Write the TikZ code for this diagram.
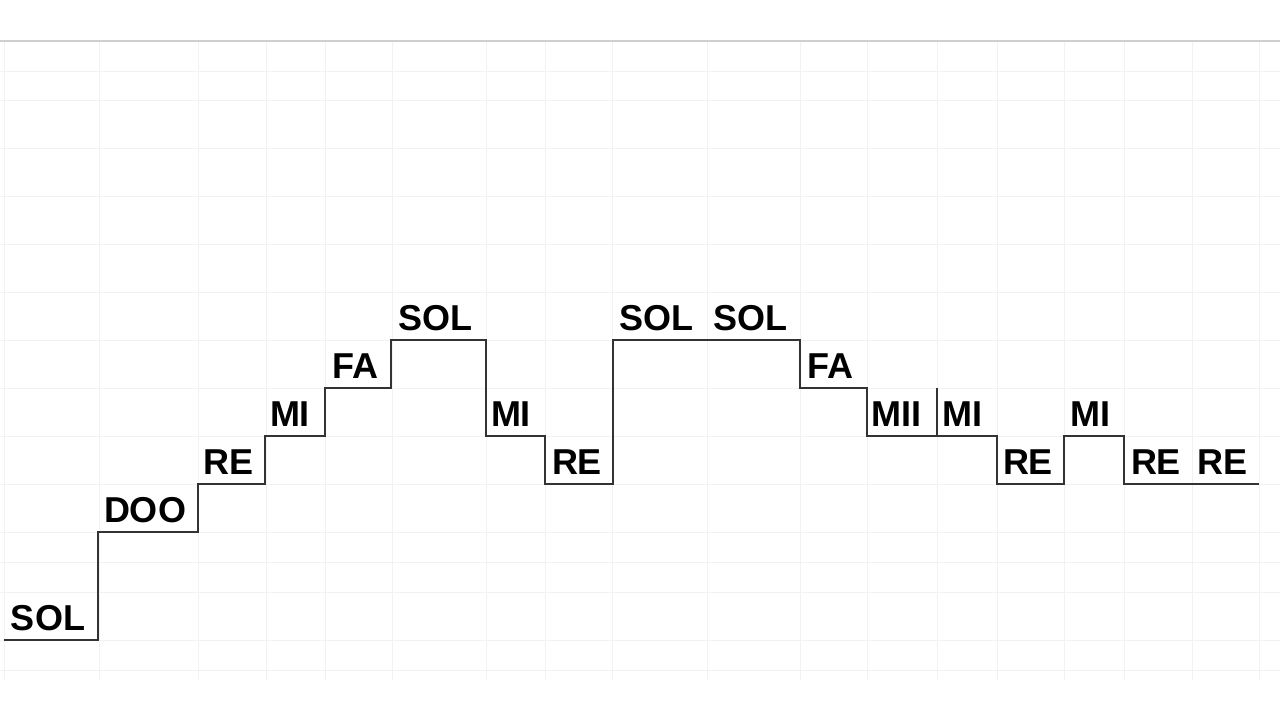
\documentclass[tikz,border=0pt]{standalone}
\usepackage{fontspec}
\setmainfont{Liberation Sans}
\definecolor{gridc}{HTML}{F2F2F2}
\definecolor{topc}{HTML}{CFCFCF}
\definecolor{stairc}{HTML}{333333}
\tikzset{
  note/.style={anchor=base, inner sep=0pt, font=\fontsize{18}{18}\selectfont\bfseries, text=black},
  gridline/.style={draw=gridc, line width=0.5pt},
  stairline/.style={draw=stairc, line width=1pt, line join=miter}
}
\begin{document}
\begin{tikzpicture}[x=0.5pt, y=-0.5pt]
\useasboundingbox[fill=white] (0,0) rectangle (1280,720);
% faint spreadsheet grid
\foreach \r in {71,100,148,196,244,292,340,388,436,484,532,562,592,640,670}
  \draw[gridline] (0,\r) -- (1280,\r);
\foreach \c in {4,99,198,266,325,392,486,545,612,707,800,867,937,997,1064,1124,1192,1259}
  \draw[gridline] (\c,41) -- (\c,680);
\draw[draw=topc, line width=0.8pt] (0,41) -- (1280,41);
% staircase
\draw[stairline] (4,640) -- (98,640) -- (98,532) -- (198,532) -- (198,484) -- (265,484) -- (265,436)
  -- (325,436) -- (325,388) -- (391,388) -- (391,340) -- (486,340) -- (486,436) -- (545,436)
  -- (545,484) -- (613,484) -- (613,340) -- (800,340) -- (800,388) -- (867,388) -- (867,436)
  -- (997,436) -- (997,484) -- (1064,484) -- (1064,436) -- (1124,436) -- (1124,484) -- (1259,484);
\draw[stairline] (937,388) -- (937,436);
% labels
\node[note] (n1) at (48,630) {SOL};
\node[note] (n2) at (145,522) {DOO};
\node[note] (n3) at (229,474) {RE};
\node[note] (n4) at (290,426) {MI};
\node[note] (n5) at (355,378) {FA};
\node[note] (n6) at (435,330) {SOL};
\node[note] (n7) at (511,426) {MI};
\node[note] (n8) at (577,474) {RE};
\node[note] (n9) at (656,330) {SOL};
\node[note] (n10) at (750,330) {SOL};
\node[note] (n11) at (830,378) {FA};
\node[note] (n12) at (896,426) {MII};
\node[note] (n13) at (962,426) {MI};
\node[note] (n14) at (1028,474) {RE};
\node[note] (n15) at (1090,426) {MI};
\node[note] (n16) at (1156,474) {RE};
\node[note] (n17) at (1222,474) {RE};
\end{tikzpicture}
\end{document}
